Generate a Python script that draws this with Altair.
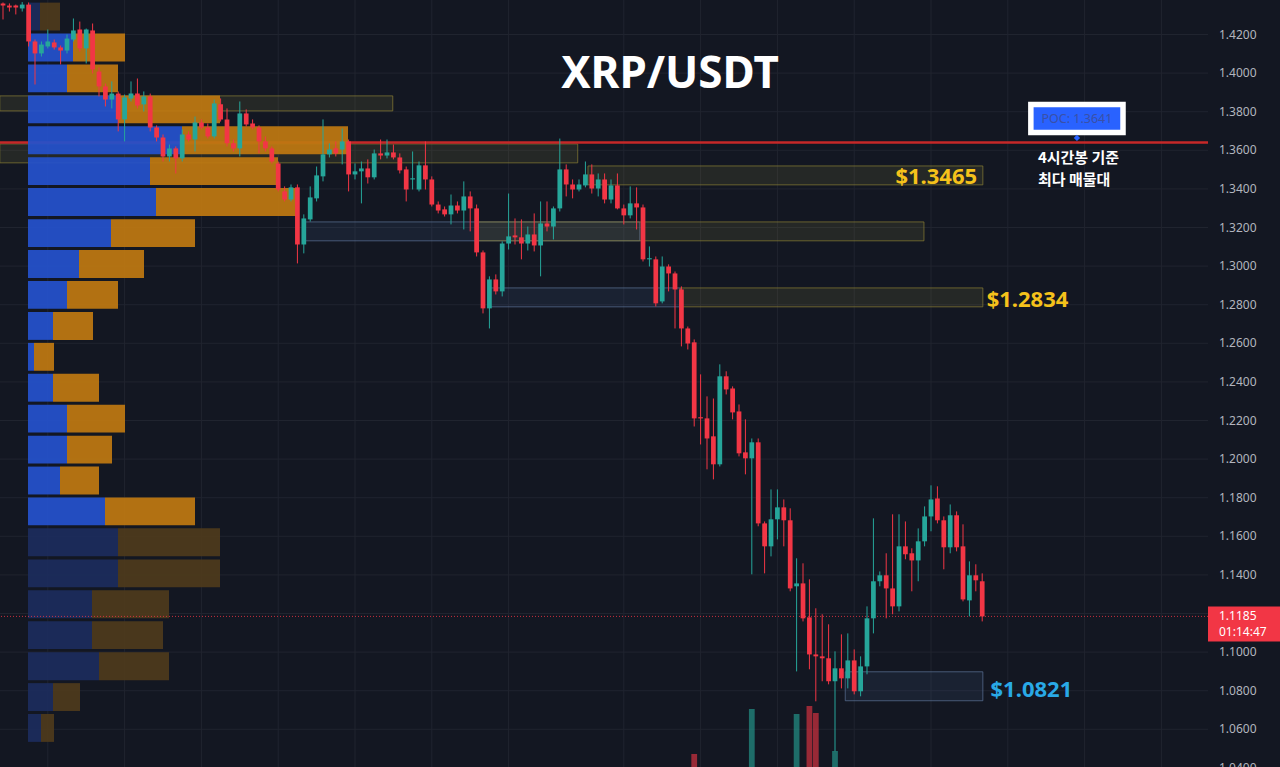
import altair as alt
import pandas as pd

TITLE = "XRP/USDT"

# ---- 4h candles (index = candle number) ----
OPEN = [
    1.4361, 1.4350, 1.4350, 1.4335, 1.4355, 1.4164, 1.4102, 1.4138, 1.4159, 1.4133,
    1.4117, 1.4174, 1.4226, 1.4128, 1.4221, 1.4008, 1.3931, 1.3863, 1.3894, 1.3760,
    1.3869, 1.3894, 1.3838, 1.3879, 1.3718, 1.3667, 1.3568, 1.3610, 1.3558, 1.3682,
    1.3656, 1.3744, 1.3718, 1.3672, 1.3838, 1.3760, 1.3636, 1.3610, 1.3791, 1.3739,
    1.3718, 1.3646, 1.3610, 1.3532, 1.3387, 1.3345, 1.3408, 1.3112, 1.3242, 1.3351,
    1.3465, 1.3579, 1.3610, 1.3604, 1.3646, 1.3475, 1.3491, 1.3506, 1.3460, 1.3584,
    1.3573, 1.3589, 1.3563, 1.3501, 1.3449, 1.3397, 1.3522, 1.3449, 1.3319, 1.3294,
    1.3268, 1.3314, 1.3288, 1.3361, 1.3299, 1.3071, 1.2781, 1.2931, 1.2869, 1.3117,
    1.3159, 1.3149, 1.3117, 1.3164, 1.3107, 1.3221, 1.3205, 1.3299, 1.3501, 1.3423,
    1.3397, 1.3418, 1.3475, 1.3402, 1.3449, 1.3345, 1.3418, 1.3299, 1.3263, 1.3325,
    1.3304, 1.3035, 1.3035, 1.2817, 1.2998, 1.2962, 1.2879, 1.2677, 1.2605, 1.2216,
    1.2211, 1.2118, 1.1973, 1.2429, 1.2366, 1.2247, 1.2035, 1.2004, 1.2087, 1.1667,
    1.1548, 1.1688, 1.1750, 1.1683, 1.1341, 1.1356, 1.1180, 1.0988, 1.0978, 1.0968,
    1.0849, 1.0916, 1.0864, 1.0957, 1.0797, 1.0926, 1.1175, 1.1367, 1.1398, 1.1330,
    1.1237, 1.1548, 1.1512, 1.1475, 1.1574, 1.1703, 1.1796, 1.1683, 1.1543, 1.1709,
    1.1548, 1.1268, 1.1398, 1.1367,
]
HIGH = [
    1.4366, 1.4361, 1.4355, 1.4368, 1.4366, 1.4174, 1.4164, 1.4226, 1.4174, 1.4143,
    1.4200, 1.4283, 1.4267, 1.4231, 1.4257, 1.4029, 1.3946, 1.3957, 1.3905, 1.3889,
    1.3957, 1.3972, 1.3905, 1.3894, 1.3729, 1.3682, 1.3630, 1.3620, 1.3708, 1.3698,
    1.3775, 1.3760, 1.3739, 1.3863, 1.3869, 1.3817, 1.3656, 1.3853, 1.3812, 1.3760,
    1.3729, 1.3672, 1.3620, 1.3542, 1.3413, 1.3423, 1.3423, 1.3268, 1.3413, 1.3516,
    1.3760, 1.3636, 1.3646, 1.3713, 1.3656, 1.3532, 1.3542, 1.3553, 1.3604, 1.3656,
    1.3656, 1.3630, 1.3584, 1.3516, 1.3594, 1.3542, 1.3646, 1.3465, 1.3335, 1.3309,
    1.3371, 1.3335, 1.3439, 1.3387, 1.3319, 1.3081, 1.2947, 1.2957, 1.3128, 1.3376,
    1.3247, 1.3242, 1.3205, 1.3273, 1.3335, 1.3335, 1.3309, 1.3661, 1.3527, 1.3449,
    1.3449, 1.3542, 1.3527, 1.3480, 1.3480, 1.3449, 1.3480, 1.3319, 1.3413, 1.3408,
    1.3319, 1.3102, 1.3050, 1.3050, 1.3009, 1.2972, 1.2895, 1.2687, 1.2620, 1.2439,
    1.2325, 1.2314, 1.2491, 1.2455, 1.2377, 1.2283, 1.2206, 1.2107, 1.2107, 1.1677,
    1.1843, 1.1843, 1.1791, 1.1745, 1.1486, 1.1460, 1.1377, 1.1227, 1.1196, 1.1144,
    1.1004, 1.1092, 1.1097, 1.1014, 1.0978, 1.1237, 1.1693, 1.1418, 1.1512, 1.1714,
    1.1714, 1.1677, 1.1538, 1.1641, 1.1755, 1.1864, 1.1859, 1.1703, 1.1765, 1.1729,
    1.1662, 1.1470, 1.1455, 1.1408,
]
LOW = [
    1.4278, 1.4319, 1.4304, 1.4319, 1.4138, 1.3941, 1.4086, 1.4128, 1.4122, 1.4045,
    1.4102, 1.4164, 1.4112, 1.4050, 1.3998, 1.3879, 1.3827, 1.3817, 1.3698, 1.3646,
    1.3853, 1.3817, 1.3801, 1.3698, 1.3646, 1.3542, 1.3542, 1.3480, 1.3542, 1.3646,
    1.3594, 1.3708, 1.3661, 1.3661, 1.3749, 1.3620, 1.3594, 1.3568, 1.3723, 1.3708,
    1.3584, 1.3594, 1.3532, 1.3387, 1.3335, 1.3335, 1.3014, 1.3066, 1.3231, 1.3335,
    1.3439, 1.3563, 1.3568, 1.3527, 1.3387, 1.3449, 1.3325, 1.3428, 1.3449, 1.3553,
    1.3558, 1.3553, 1.3480, 1.3335, 1.3397, 1.3387, 1.3397, 1.3309, 1.3273, 1.3257,
    1.3216, 1.3273, 1.3190, 1.3180, 1.3050, 1.2755, 1.2677, 1.2853, 1.2843, 1.3086,
    1.3112, 1.3035, 1.3081, 1.3076, 1.2947, 1.3180, 1.3138, 1.3283, 1.3361, 1.3351,
    1.3387, 1.3408, 1.3376, 1.3361, 1.3325, 1.3325, 1.3294, 1.3216, 1.3247, 1.3190,
    1.3024, 1.2998, 1.2791, 1.2807, 1.2869, 1.2677, 1.2584, 1.2568, 1.2169, 1.2076,
    1.1947, 1.1895, 1.1962, 1.2335, 1.2206, 1.2014, 1.1921, 1.1403, 1.1652, 1.1408,
    1.1496, 1.1584, 1.1548, 1.1315, 1.0900, 1.1159, 1.0911, 1.0745, 1.0849, 1.0833,
    1.0486, 1.0812, 1.0812, 1.0781, 1.0771, 1.0885, 1.1097, 1.1341, 1.1175, 1.1196,
    1.1211, 1.1481, 1.1315, 1.1367, 1.1548, 1.1626, 1.1667, 1.1429, 1.1512, 1.1522,
    1.1263, 1.1185, 1.1315, 1.1159,
]
CLOSE = [
    1.4350, 1.4340, 1.4340, 1.4355, 1.4164, 1.4102, 1.4148, 1.4164, 1.4133, 1.4117,
    1.4179, 1.4221, 1.4128, 1.4226, 1.4019, 1.3931, 1.3863, 1.3894, 1.3760, 1.3874,
    1.3894, 1.3832, 1.3879, 1.3718, 1.3667, 1.3568, 1.3610, 1.3558, 1.3682, 1.3656,
    1.3744, 1.3718, 1.3672, 1.3843, 1.3760, 1.3636, 1.3610, 1.3791, 1.3734, 1.3718,
    1.3646, 1.3610, 1.3542, 1.3397, 1.3345, 1.3408, 1.3112, 1.3247, 1.3356, 1.3470,
    1.3579, 1.3604, 1.3584, 1.3646, 1.3475, 1.3491, 1.3506, 1.3460, 1.3584, 1.3573,
    1.3589, 1.3563, 1.3496, 1.3397, 1.3454, 1.3522, 1.3449, 1.3319, 1.3288, 1.3268,
    1.3314, 1.3288, 1.3361, 1.3299, 1.3071, 1.2781, 1.2931, 1.2869, 1.3117, 1.3154,
    1.3149, 1.3117, 1.3164, 1.3107, 1.3221, 1.3205, 1.3299, 1.3501, 1.3423, 1.3397,
    1.3423, 1.3475, 1.3402, 1.3449, 1.3345, 1.3418, 1.3299, 1.3263, 1.3325, 1.3304,
    1.3035, 1.3040, 1.2807, 1.2998, 1.2962, 1.2879, 1.2677, 1.2599, 1.2211, 1.2211,
    1.2107, 1.1973, 1.2429, 1.2361, 1.2242, 1.2030, 1.2004, 1.2087, 1.1667, 1.1548,
    1.1688, 1.1750, 1.1683, 1.1330, 1.1356, 1.1175, 1.0988, 1.0978, 1.0968, 1.0849,
    1.0916, 1.0864, 1.0957, 1.0797, 1.0926, 1.1175, 1.1367, 1.1398, 1.1330, 1.1237,
    1.1548, 1.1507, 1.1475, 1.1574, 1.1703, 1.1791, 1.1683, 1.1543, 1.1709, 1.1543,
    1.1273, 1.1398, 1.1372, 1.1185,
]

# ---- volume bars visible at the bottom edge (volume above the pane floor) ----
VOL_IDX = [108, 117, 124, 126, 127, 130]
VOL_VALUE = [226, 316, 306, 322, 308, 232]

# ---- volume profile rows (price centre, buy volume, sell volume, in value area) ----
PROFILE_CENTER = [1.4293, 1.4133, 1.3973, 1.3812, 1.3652, 1.3492, 1.3332, 1.3171,
                  1.3011, 1.2851, 1.2690, 1.2530, 1.2370, 1.2210, 1.2049, 1.1889,
                  1.1729, 1.1569, 1.1408, 1.1248, 1.1088, 1.0927, 1.0767, 1.0607]
PROFILE_UP = [12, 45, 39, 90, 154, 122, 128, 83, 51, 39, 25, 6,
              25, 39, 39, 32, 77, 90, 90, 64, 64, 71, 25, 13]
PROFILE_DOWN = [20, 52, 51, 102, 166, 128, 140, 84, 65, 51, 40, 20,
                46, 58, 45, 39, 90, 102, 102, 77, 71, 70, 27, 13]
PROFILE_IN_VA = [False, True, True, True, True, True, True, True, True, True, True, True,
                 True, True, True, True, True, False, False, False, False, False, False, False]

# ---- supply / demand zones ----
ZONE_START = [-0.5, -0.5, 91.4, 46.9, 74.2, 76.1, 105.8, 131.6]
ZONE_END = [60.9, 89.8, 153.1, 99.5, 143.9, 105.8, 153.1, 153.1]
ZONE_TOP = [1.3882, 1.3633, 1.3519, 1.3229, 1.3229, 1.2887, 1.2887, 1.0898]
ZONE_BOTTOM = [1.3804, 1.3535, 1.3421, 1.3131, 1.3131, 1.2789, 1.2789, 1.0748]
ZONE_KIND = ["supply", "supply", "supply", "demand", "supply", "demand", "supply", "demand"]

LEVEL_TEXT = ["$1.3465", "$1.2834", "$1.0821"]
LEVEL_PRICE = [1.3462, 1.2824, 1.0804]
LEVEL_IDX = [152.2, 153.7, 154.3]

POC_PRICE = 1.3641
POC_TEXT = "POC: 1.3641"
LAST_PRICE = 1.1185
LAST_TEXT = "1.1185"
COUNTDOWN = "01:14:47"
NOTE_LINES = ["4시간봉 기준", "최다 매물대"]
NOTE_PRICE = [1.3560, 1.3446]

PRICE_TICKS = [1.04, 1.06, 1.08, 1.10, 1.12, 1.14, 1.16, 1.18, 1.20, 1.22,
               1.24, 1.26, 1.28, 1.30, 1.32, 1.34, 1.36, 1.38, 1.40, 1.42]
GRID_IDX = [7, 19, 31, 43, 55, 67, 79, 97, 109, 121, 133, 145, 157, 169, 181]

# ---- styling ----
BG = "#131722"
GRID = "#20242F"
UP = "#26A69A"
DOWN = "#F23645"
GOLD = "#F5C21B"
CYAN = "#29A9E6"
W, H = 1208, 767

X_DOMAIN = [-0.47, 188.28]
Y_DOMAIN = [1.04047, 1.43788]
xs = alt.Scale(domain=X_DOMAIN, nice=False, zero=False)
ys = alt.Scale(domain=Y_DOMAIN, nice=False, zero=False)
dir_scale = alt.Scale(domain=["up", "down"], range=[UP, DOWN])

# volume pane: floor of the visible pane and price-units per volume unit
VOL_FLOOR = 200
VOL_TO_PRICE = (Y_DOMAIN[1] - Y_DOMAIN[0]) / H * 0.5

# ---- tables ----
n = len(OPEN)
candles = pd.DataFrame({"i": list(range(n)), "open": OPEN, "high": HIGH, "low": LOW, "close": CLOSE})
candles["dir"] = ["up" if c >= o else "down" for o, c in zip(OPEN, CLOSE)]
candles["b_lo"] = candles[["open", "close"]].min(axis=1)
candles["b_hi"] = candles[["open", "close"]].max(axis=1)
candles["b_hi"] = pd.concat([candles["b_hi"], candles["b_lo"] + 0.0006], axis=1).max(axis=1)
candles["xl"] = candles["i"] - 0.37
candles["xr"] = candles["i"] + 0.37

vol = pd.DataFrame({"i": VOL_IDX, "vol": VOL_VALUE})
vol["dir"] = [candles.loc[k, "dir"] for k in VOL_IDX]
vol["xl"] = vol["i"] - 0.45
vol["xr"] = vol["i"] + 0.45
vol["top"] = Y_DOMAIN[0] + (vol["vol"] - VOL_FLOOR) * VOL_TO_PRICE
vol["base"] = Y_DOMAIN[0]

STEP = 0.016
prof_rows = []
for c, u, d, va in zip(PROFILE_CENTER, PROFILE_UP, PROFILE_DOWN, PROFILE_IN_VA):
    tag = "va" if va else "out"
    prof_rows.append({"top": c + STEP / 2, "bottom": c - STEP / 2, "v0": 0, "v1": u, "cat": "up_" + tag})
    prof_rows.append({"top": c + STEP / 2, "bottom": c - STEP / 2, "v0": u, "v1": u + d, "cat": "down_" + tag})
profile_df = pd.DataFrame(prof_rows)

zones = pd.DataFrame({"x1": ZONE_START, "x2": ZONE_END, "top": ZONE_TOP,
                      "bottom": ZONE_BOTTOM, "kind": ZONE_KIND})
levels = pd.DataFrame({"i": LEVEL_IDX, "price": LEVEL_PRICE, "text": LEVEL_TEXT})
ticks_df = pd.DataFrame({"p": PRICE_TICKS, "t": [f"{v:.4f}" for v in PRICE_TICKS]})
# the last-price tag covers the scale label right under it
label_df = ticks_df[(ticks_df["p"] - LAST_PRICE).abs() > 0.012]
vgrid_df = pd.DataFrame({"i": GRID_IDX})

# ---- bottom layer: grid, zones, POC line ----
hgrid = alt.Chart(ticks_df).mark_rule(color=GRID, strokeWidth=1).encode(
    y=alt.Y("p:Q", scale=ys, axis=None))
vgrid = alt.Chart(vgrid_df).mark_rule(color=GRID, strokeWidth=1).encode(
    x=alt.X("i:Q", scale=xs, axis=None))

zone_layer = alt.Chart(zones).mark_rect(fillOpacity=0.13, strokeOpacity=0.7, strokeWidth=1).encode(
    x=alt.X("x1:Q", scale=xs, axis=None),
    x2="x2:Q",
    y=alt.Y("top:Q", scale=ys, axis=None),
    y2="bottom:Q",
    fill=alt.Fill("kind:N", scale=alt.Scale(domain=["supply", "demand"], range=["#A09A42", "#4A6FA5"]), legend=None),
    stroke=alt.Stroke("kind:N", scale=alt.Scale(domain=["supply", "demand"], range=["#8A7F35", "#5B7399"]), legend=None),
)
poc_line = alt.Chart(pd.DataFrame({"p": [POC_PRICE]})).mark_rule(color="#C62828", strokeWidth=2.5).encode(
    y=alt.Y("p:Q", scale=ys, axis=None))
bottom = alt.layer(hgrid, vgrid, zone_layer, poc_line)

# ---- volume profile (own horizontal volume scale) ----
profile = alt.Chart(profile_df).mark_rect(yOffset=1.5, y2Offset=-1.5, opacity=0.93).encode(
    x=alt.X("v0:Q", scale=alt.Scale(domain=[-28, 1180], nice=False, zero=False), axis=None),
    x2="v1:Q",
    y=alt.Y("top:Q", scale=ys, axis=None),
    y2="bottom:Q",
    color=alt.Color("cat:N", scale=alt.Scale(domain=["up_va", "down_va", "up_out", "down_out"],
                                             range=["#2552CC", "#BE7811", "#1C2C5C", "#4D3A1C"]), legend=None),
)

# ---- top layer: volume bars, price line, candles, annotations ----
vol_layer = alt.Chart(vol).mark_rect(opacity=0.6).encode(
    x=alt.X("xl:Q", scale=xs, axis=None),
    x2="xr:Q",
    y=alt.Y("top:Q", scale=ys, axis=None),
    y2="base:Q",
    color=alt.Color("dir:N", scale=dir_scale, legend=None),
)

last_df = pd.DataFrame({"p": [LAST_PRICE], "t1": [LAST_TEXT], "t2": [COUNTDOWN]})
last_line = alt.Chart(last_df).mark_rule(color=DOWN, strokeWidth=1, strokeDash=[1, 2], opacity=0.8).encode(
    y=alt.Y("p:Q", scale=ys, axis=None))

wicks = alt.Chart(candles).mark_rule(strokeWidth=1).encode(
    x=alt.X("i:Q", scale=xs, axis=None),
    y=alt.Y("low:Q", scale=ys, axis=None),
    y2="high:Q",
    color=alt.Color("dir:N", scale=dir_scale, legend=None),
)
bodies = alt.Chart(candles).mark_rect().encode(
    x=alt.X("xl:Q", scale=xs, axis=None),
    x2="xr:Q",
    y=alt.Y("b_lo:Q", scale=ys, axis=None),
    y2="b_hi:Q",
    color=alt.Color("dir:N", scale=dir_scale, legend=None),
)

lvl_common = dict(font="Noto Sans", fontSize=22, fontWeight="bold", baseline="middle")
lvl1 = alt.Chart(levels.iloc[[0]]).mark_text(align="right", color=GOLD, **lvl_common).encode(
    x=alt.X("i:Q", scale=xs, axis=None), y=alt.Y("price:Q", scale=ys, axis=None), text="text:N")
lvl2 = alt.Chart(levels.iloc[[1]]).mark_text(align="left", color=GOLD, **lvl_common).encode(
    x=alt.X("i:Q", scale=xs, axis=None), y=alt.Y("price:Q", scale=ys, axis=None), text="text:N")
lvl3 = alt.Chart(levels.iloc[[2]]).mark_text(align="left", color=CYAN, **lvl_common).encode(
    x=alt.X("i:Q", scale=xs, axis=None), y=alt.Y("price:Q", scale=ys, axis=None), text="text:N")

poc_box_df = pd.DataFrame({"x1": [160.6], "x2": [175.0], "top": [1.3837], "bottom": [1.3692],
                           "xc": [167.8], "yc": [1.3762], "t": [POC_TEXT], "yd": [1.3664]})
poc_box = alt.Chart(poc_box_df).mark_rect(fill="#2962FF", stroke="#FFFFFF", strokeWidth=5.5).encode(
    x=alt.X("x1:Q", scale=xs, axis=None), x2="x2:Q",
    y=alt.Y("top:Q", scale=ys, axis=None), y2="bottom:Q")
poc_txt = alt.Chart(poc_box_df).mark_text(font="Noto Sans", fontSize=12.5, color="#3A50A6",
                                          align="center", baseline="middle").encode(
    x=alt.X("xc:Q", scale=xs, axis=None), y=alt.Y("yc:Q", scale=ys, axis=None), text="t:N")
poc_pin = alt.Chart(poc_box_df).mark_point(shape="diamond", filled=True, size=40, color="#2962FF", opacity=1).encode(
    x=alt.X("xc:Q", scale=xs, axis=None), y=alt.Y("yd:Q", scale=ys, axis=None))

notes_df = pd.DataFrame({"t": NOTE_LINES, "p": NOTE_PRICE, "i": [161.7, 161.7]})
notes = alt.Chart(notes_df).mark_text(font="Noto Sans CJK KR", fontSize=15, fontWeight="bold",
                                      color="#FFFFFF", align="left", baseline="middle").encode(
    x=alt.X("i:Q", scale=xs, axis=None), y=alt.Y("p:Q", scale=ys, axis=None), text="t:N")

title = alt.Chart(pd.DataFrame({"t": [TITLE]})).mark_text(
    font="Noto Sans", fontSize=44, fontWeight="bold", color="#FFFFFF", align="center", baseline="middle"
).encode(text="t:N", x=alt.value(670), y=alt.value(75))

# right-hand price scale labels
axis_labels = alt.Chart(label_df).mark_text(font="Noto Sans", fontSize=12, color="#B2B5BE",
                                            align="left", baseline="middle").encode(
    x=alt.value(1219), y=alt.Y("p:Q", scale=ys, axis=None), text="t:N")

last_box = alt.Chart(last_df).mark_rect(color=DOWN, yOffset=-10, y2Offset=25).encode(
    x=alt.value(W), x2=alt.value(1280),
    y=alt.Y("p:Q", scale=ys, axis=None), y2="p:Q")
last_t1 = alt.Chart(last_df).mark_text(font="Noto Sans", fontSize=12, color="#FFFFFF", align="left",
                                       baseline="middle", dy=0).encode(
    x=alt.value(1219), y=alt.Y("p:Q", scale=ys, axis=None), text="t1:N")
last_t2 = alt.Chart(last_df).mark_text(font="Noto Sans", fontSize=12, color="#FFFFFF", align="left",
                                       baseline="middle", dy=16).encode(
    x=alt.value(1219), y=alt.Y("p:Q", scale=ys, axis=None), text="t2:N")

top = alt.layer(vol_layer, last_line, wicks, bodies, lvl1, lvl2, lvl3, poc_box, poc_txt, poc_pin,
                notes, title, axis_labels, last_box, last_t1, last_t2)

chart = alt.layer(bottom, profile, top).resolve_scale(
    x="independent", color="independent", fill="independent", stroke="independent"
).properties(
    width=W, height=H,
    autosize=alt.AutoSizeParams(type="none"),
    padding={"left": 0, "top": 0, "right": 1280 - W, "bottom": 0},
    background=BG,
).configure_view(strokeWidth=0, fill=BG)

chart.save("out.html", embed_options={"renderer": "svg", "actions": False})
